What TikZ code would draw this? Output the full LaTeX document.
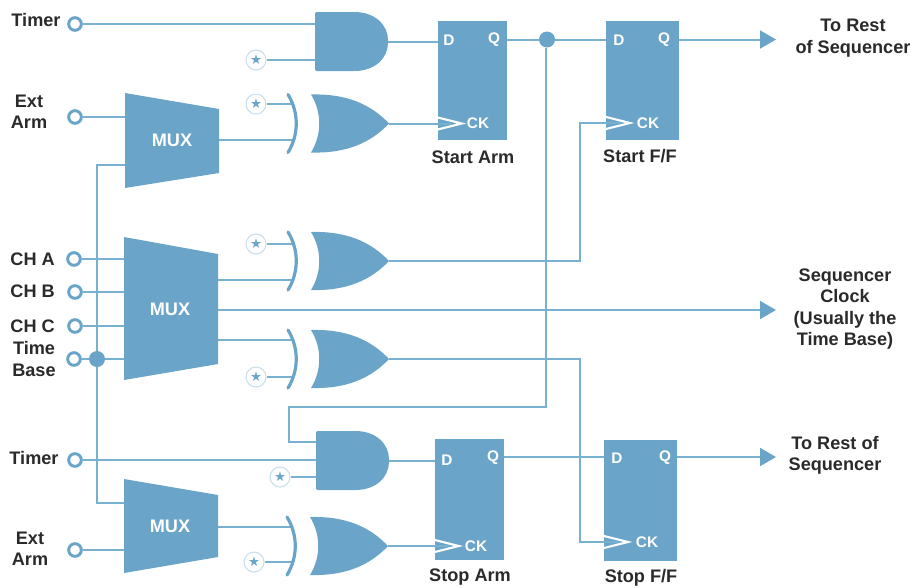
\documentclass[tikz,border=0pt]{standalone}
\usepackage{fontspec}
\setmainfont{Liberation Sans}
\newfontfamily\starfont{DejaVu Sans}
\usetikzlibrary{arrows.meta,calc,backgrounds}
\definecolor{blk}{HTML}{6AA5C9}
\definecolor{wire}{HTML}{78B0D0}
\definecolor{ink}{HTML}{2A2A2A}
\tikzset{
  x=0.75pt,y=-0.75pt,
  wireline/.style={draw=wire,line width=1.5pt},
  sig/.style={wireline,-{Triangle[length=12pt,width=13.5pt,color=blk,fill=blk]}},
  lab/.style={text=ink,font=\bfseries\fontsize{13.6}{16}\selectfont,align=center,inner sep=0pt},
  muxlab/.style={text=white,font=\bfseries\fontsize{13.6}{14}\selectfont,inner sep=0pt},
  inlab/.style={text=white,font=\bfseries\fontsize{11.5}{14}\selectfont,inner sep=0pt},
  port/.style={circle,draw=blk,line width=2.2pt,fill=white,minimum size=9.5pt,inner sep=0pt},
  joint/.style={circle,fill=blk,minimum size=12pt,inner sep=0pt},
  starbox/.style={circle,draw=wire!40,line width=.8pt,fill=white,minimum size=15pt,inner sep=0pt,text=blk,font=\starfont\fontsize{10}{10}\selectfont},
  ffbox/.style={rectangle,fill=blk,inner sep=0pt},
  andgate/.pic={
    \fill[blk,rounded corners=1pt] (0,0) -- (38,0) .. controls (60,0) and (73,13) .. (73,29.5) .. controls (73,46) and (60,59) .. (38,59) -- (0,59) -- cycle;
    \coordinate (-in) at (0,29.5);
    \coordinate (-out) at (73,29.5);
  },
  orgate/.pic={
    \fill[blk] (0,0) .. controls (36,-1) and (60,10) .. (78,29) .. controls (60,48) and (36,59) .. (0,58) .. controls (11,40) and (11,18) .. (0,0) -- cycle;
    \draw[blk,line width=2.4pt,line cap=round] (-23,0) .. controls (-12,18) and (-12,40) .. (-23,58);
    \coordinate (-arc) at (-18,29);
    \coordinate (-out) at (78,29);
  },
}
\newcommand{\chev}[2]{\draw[white,line width=1.6pt] ($(#1)+(0,-6)$) -- ($(#1)+(#2,0)$) -- ($(#1)+(0,6)$);}
\begin{document}
\begin{tikzpicture}
\useasboundingbox (0,0) rectangle (912,587);

% muxes
\fill[blk] (125,93) -- (219,109) -- (219,173) -- (125,188) -- cycle;
\fill[blk] (124,237) -- (218,254) -- (218,364) -- (124,380) -- cycle;
\fill[blk] (124,479) -- (218,495) -- (218,557) -- (124,573) -- cycle;
\node[muxlab] (muxa) at (172,140) {MUX};
\node[muxlab] (muxb) at (170,309) {MUX};
\node[muxlab] (muxc) at (170,526) {MUX};
\coordinate (ma) at (125,140);
\coordinate (mar) at (219,140);
\coordinate (mb) at (124,309);
\coordinate (mbr) at (218,310);
\coordinate (mc) at (124,526);
\coordinate (mcr) at (218,527);

% gates
\pic (g1) at (315,12) {andgate};
\pic (g3) at (316,431) {andgate};
\pic (o1) at (311,94.5) {orgate};
\pic (o2) at (311,232) {orgate};
\pic (o3) at (311,330) {orgate};
\pic (o4) at (310,517) {orgate};

% flip-flops
\node[ffbox,minimum width=51.75pt,minimum height=89.25pt] (ffa) at (472.5,80.5) {};
\node[ffbox,minimum width=54.75pt,minimum height=89.25pt] (ffb) at (642.5,80.5) {};
\node[ffbox,minimum width=51.75pt,minimum height=90.75pt] (ffc) at (469.5,499.5) {};
\node[ffbox,minimum width=54.75pt,minimum height=90.75pt] (ffd) at (640.5,500) {};

% input ports
\node[port] (ptimera) at (75,24) {};
\node[port] (pexta) at (75,117) {};
\node[port] (pcha) at (74,259) {};
\node[port] (pchb) at (75,292) {};
\node[port] (pchc) at (75,326) {};
\node[port] (ptb) at (74,359) {};
\node[port] (ptimerb) at (75,460) {};
\node[port] (pextb) at (75,550) {};

% stars
\node[starbox] (s1) at (256,60) {★};
\node[starbox] (s2) at (256,104) {★};
\node[starbox] (s3) at (256,244) {★};
\node[starbox] (s4) at (256,377) {★};
\node[starbox] (s5) at (280,477) {★};
\node[starbox] (s6) at (254,562) {★};

% joints
\node[joint] (ja) at (547,39.5) {};
\node[joint] (jb) at (97,359) {};

\begin{scope}[on background layer]
% connectors: inputs
\draw[wireline] (ptimera) -- (ptimera -| g1-in);
\draw[wireline] (s1) -- (s1 -| g1-in);
\draw[wireline] (pexta) -- (pexta -| ma);
\draw[wireline] (pcha) -- (pcha -| mb);
\draw[wireline] (pchb) -- (pchb -| mb);
\draw[wireline] (pchc) -- (pchc -| mb);
\draw[wireline] (ptb) -- (jb);
\draw[wireline] (jb) -- (jb -| mb);
\draw[wireline] (ptimerb) -- (ptimerb -| g3-in);
\draw[wireline] (s5) -- (s5 -| g3-in);
\draw[wireline] (pextb) -- (pextb -| mc);

% select line
\coordinate (seltop) at (97,165);
\coordinate (selbot) at (97,503);
\draw[wireline] (ma |- seltop) -- (seltop) -- (selbot) -- (mc |- selbot);

% mux outputs to OR gates
\draw[wireline] (s2) -- (s2 -| o1-arc);
\draw[wireline] (mar) -- (mar -| o1-arc);
\draw[wireline] (s3) -- (s3 -| o2-arc);
\coordinate (yb) at (218,280);
\draw[wireline] (yb) -- (yb -| o2-arc);
\coordinate (yc) at (218,340);
\draw[wireline] (yc) -- (yc -| o3-arc);
\draw[wireline] (s4) -- (s4 -| o3-arc);
\draw[wireline] (mcr) -- (mcr -| o4-arc);
\draw[wireline] (s6) -- (s6 -| o4-arc);

% sequencer clock
\coordinate (tipb) at (776,310);
\draw[sig] (mbr) -- (tipb);

% gate outputs to flip-flops
\draw[wireline] (g1-out) -- (g1-out -| ffa.west);
\coordinate (cka) at (ffa.west |- o1-out);
\draw[wireline] (o1-out) -- (cka);
\draw[wireline] (g3-out) -- (g3-out -| ffc.west);
\coordinate (ckc) at (ffc.west |- o4-out);
\draw[wireline] (o4-out) -- (ckc);

% start arm Q
\coordinate (qa) at (ffa.east |- ja);
\draw[wireline] (qa) -- (ja);
\draw[wireline] (ja) -- (ja -| ffb.west);
\coordinate (fb) at (546,407);
\coordinate (fc) at (289,407);
\coordinate (fd) at (289,442);
\draw[wireline] (ja.south -| fb) -- (fb) -- (fc) -- (fd) -- (fd -| g3-in);

% start F/F clock
\coordinate (ckbv) at (580,261);
\coordinate (ckb) at (606,123);
\draw[wireline] (o2-out) -- (ckbv) -- (ckbv |- ckb) -- (ckb);

% stop F/F clock
\coordinate (ckdv) at (580,359);
\coordinate (ckd) at (604,542);
\draw[wireline] (o3-out) -- (ckdv) -- (ckdv |- ckd) -- (ckd);

% stop arm Q
\coordinate (qc) at (ffc.east |- 0,457);
\draw[wireline] (qc) -- (qc -| ffd.west);

% outputs
\coordinate (qb) at (ffb.east |- ja);
\draw[sig] (qb) -- (qb -| tipb);
\coordinate (qd) at (ffd.east |- qc);
\draw[sig] (qd) -- (qd -| tipb);
\end{scope}

% clock chevrons
\draw[wireline] (cka) -- ++(14,0);
\draw[wireline] (ckb) -- ++(14,0);
\draw[wireline] (ckc) -- ++(14,0);
\draw[wireline] (ckd) -- ++(14,0);
\chev{cka}{24}
\chev{ckb}{24}
\chev{ckc}{24}
\chev{ckd}{24}

% flip-flop pin labels
\node[inlab] (da) at (449,40) {D};
\node[inlab] (qqa) at (494,40) {Q};
\node[inlab] (cka2) at (478,123) {CK};
\node[inlab] (db) at (619,40) {D};
\node[inlab] (qqb) at (664,40) {Q};
\node[inlab] (ckb2) at (648,123) {CK};
\node[inlab] (dc) at (447,460) {D};
\node[inlab] (qqc) at (493,458) {Q};
\node[inlab] (ckc2) at (476,546) {CK};
\node[inlab] (dd) at (617,458) {D};
\node[inlab] (qqd) at (665,458) {Q};
\node[inlab] (ckd2) at (647,542) {CK};

% text labels
\node[lab] (t1) at (36,20) {Timer};
\node[lab] (t2) at (29,111.5) {Ext\\Arm};
\node[lab,anchor=east] (t3) at (55,259) {CH A};
\node[lab,anchor=east] (t4) at (55,291) {CH B};
\node[lab,anchor=east] (t5) at (55,326) {CH C};
\node[lab] (t6) at (34,359) {Time\\Base};
\node[lab] (t7) at (34,458) {Timer};
\node[lab] (t8) at (30,549) {Ext\\Arm};
\node[lab] (t9) at (473,157) {Start Arm};
\node[lab] (t10) at (640,156) {Start F/F};
\node[lab] (t11) at (470,577) {Stop Arm};
\node[lab] (t12) at (641,578) {Stop F/F};
\node[lab] (t13) at (853,38) {To Rest\\of Sequencer};
\node[lab] (t14) at (845,309) {Sequencer\\Clock\\(Usually the\\Time Base)};
\node[lab] (t15) at (835,455) {To Rest of\\Sequencer};
\end{tikzpicture}
\end{document}
